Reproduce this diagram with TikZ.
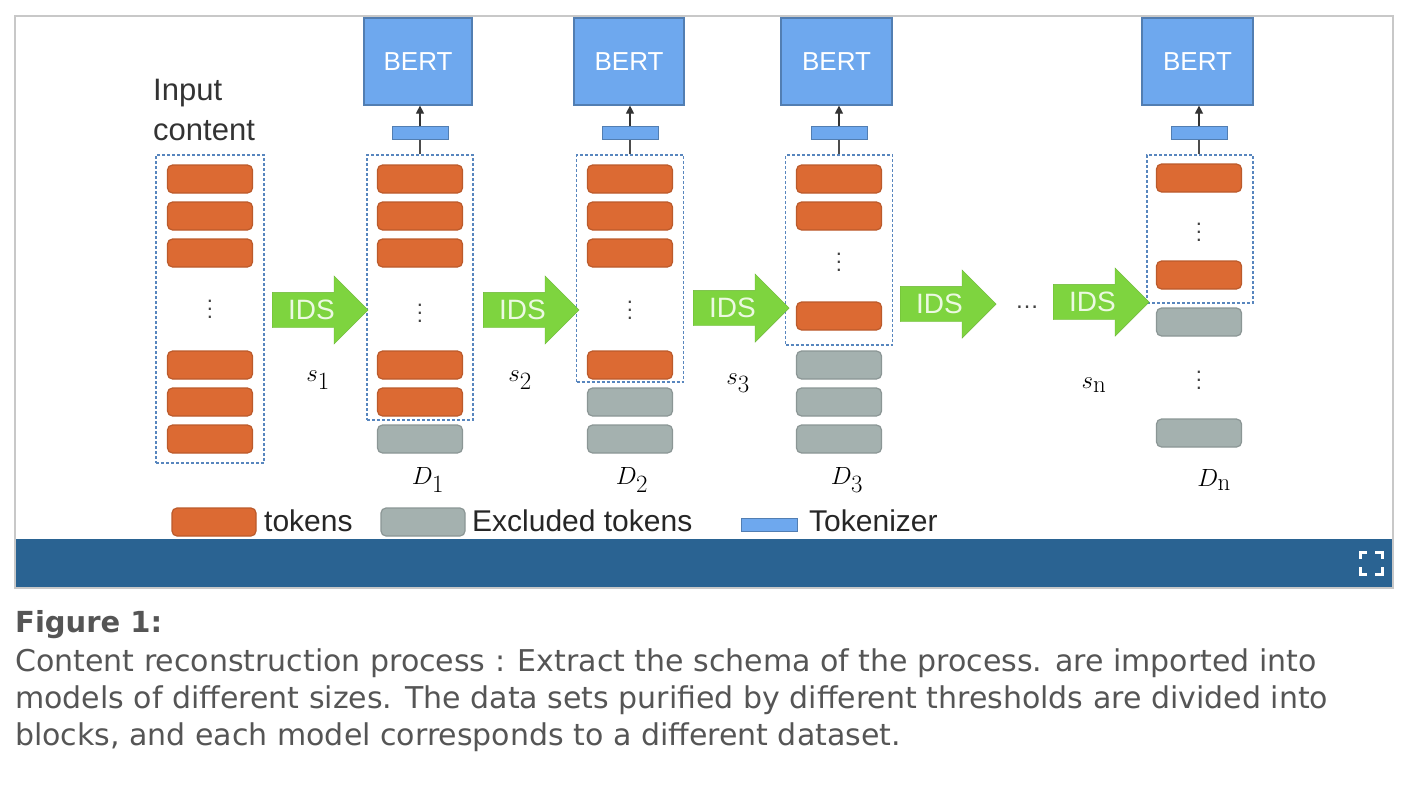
\documentclass[tikz,border=0pt]{standalone}
\usepackage[no-math]{fontspec}
\setmainfont{Liberation Sans}
\newfontfamily\capfont{DejaVu Sans}
\usetikzlibrary{shapes.arrows,arrows.meta}
\definecolor{one}{HTML}{DC6A33}
\definecolor{two}{HTML}{6EA8EE}
\definecolor{three}{HTML}{A4B1AF}
\definecolor{four}{HTML}{7ED43F}
\definecolor{frame}{HTML}{C8C8C8}
\definecolor{bar}{HTML}{2A6392}
\definecolor{captxt}{HTML}{555555}
\newcommand{\cvdots}{\vbox{\baselineskip=8pt\lineskiplimit=0pt\hbox{.}\hbox{.}\hbox{.}}}

\begin{document}
\begin{tikzpicture}[x=1pt,y=-1pt,
  token/.style={draw=one!85!black, fill=one, rounded corners=5, minimum width=85, minimum height=28, inner sep=0, line width=1.2},
  extok/.style={token, draw=three!85!black, fill=three},
  tkzr/.style={draw=two!75!black, fill=two, minimum width=56, minimum height=13, inner sep=0, line width=1},
  bert/.style={draw=two!75!black, fill=two, minimum height=87, text=white, font=\fontsize{26}{30}\selectfont, inner sep=0, line width=1.2},
  ids/.style={single arrow, draw=four!85!black, fill=four, text=white!85!four, font=\fontsize{28}{30}\selectfont, minimum height=96, minimum width=68, single arrow head extend=16.5, single arrow head indent=0, text height=19, text depth=0, inner ysep=8, anchor=tail},
  dbox/.style={draw=two!80!black, dash pattern=on 3pt off 2pt, line width=1.2, inner sep=0},
  vdot/.style={font=\fontsize{22}{22}\selectfont, text=black!75, inner sep=0},
  mlab/.style={font=\fontsize{33}{34}\selectfont, inner sep=0},
  lgd/.style={font=\fontsize{30}{32}\selectfont, text=black!85, anchor=west, inner sep=0},
]
\useasboundingbox (0,0) rectangle (1412,790);

% page frame and bar
\fill[bar] (16,539) rectangle (1392,587);
\draw[frame, line width=2] (15,16) rectangle (1393,588);
\draw[white, line width=3]
(1360,559) -- (1360,552) -- (1367,552)
(1375,552) -- (1382,552) -- (1382,559)
(1360,567) -- (1360,574) -- (1367,574)
(1375,574) -- (1382,574) -- (1382,567);

\draw[solid]

(153,110) node[anchor=west, align=left, inner sep=0, text=black!80, font=\fontsize{31}{40}\selectfont] (IN) {Input\\content}

(210,309) node[dbox, minimum width=108, minimum height=308] (X0) {}
(210,179) node[token] (a1) {}
(210,216) node[token] (a2) {}
(210,253) node[token] (a3) {}
(210,309) node[vdot] (adots) {\cvdots}
(210,365) node[token] (a4) {}
(210,402) node[token] (a5) {}
(210,439) node[token] (a6) {}

(420,287.5) node[dbox, minimum width=106, minimum height=265] (X1) {}
(420,179) node[token] (b1) {}
(420,216) node[token] (b2) {}
(420,253) node[token] (b3) {}
(420,313) node[vdot] (bdots) {\cvdots}
(420,365) node[token] (b4) {}
(420,402) node[token] (b5) {}
(420,439) node[extok] (b6) {}
(420,133) node[tkzr] (K1) {}
(418,61.5) node[bert, minimum width=108] (B1) {BERT}

(630,268.5) node[dbox, minimum width=107, minimum height=227] (X2) {}
(630,179) node[token] (c1) {}
(630,216) node[token] (c2) {}
(630,253) node[token] (c3) {}
(630,310) node[vdot] (cdots) {\cvdots}
(630,365) node[token] (c4) {}
(630,402) node[extok] (c5) {}
(630,439) node[extok] (c6) {}
(630,133) node[tkzr] (K2) {}
(629,61.5) node[bert, minimum width=110] (B2) {BERT}

(839,250) node[dbox, minimum width=107, minimum height=190] (X3) {}
(839,179) node[token] (e1) {}
(839,216) node[token] (e2) {}
(839,262) node[vdot] (edots) {\cvdots}
(839,316) node[token] (e3) {}
(839,365) node[extok] (e4) {}
(839,402) node[extok] (e5) {}
(839,439) node[extok] (e6) {}
(839,133) node[tkzr] (K3) {}
(836.5,61.5) node[bert, minimum width=111] (B3) {BERT}

(1200,229) node[dbox, minimum width=106, minimum height=148] (Xn) {}
(1199,178) node[token] (f1) {}
(1199,232) node[vdot] (fdots) {\cvdots}
(1199,275) node[token] (f2) {}
(1199,322) node[extok] (f3) {}
(1199,380) node[vdot] (fdots2) {\cvdots}
(1199,433) node[extok] (f4) {}
(1199,133) node[tkzr] (Kn) {}
(1197.5,61.5) node[bert, minimum width=111] (Bn) {BERT}

(272,310) node[ids] (S1) {IDS}
(483,310) node[ids] (S2) {IDS}
(693,308) node[ids] (S3) {IDS}
(900,304) node[ids] (S4) {IDS}
(1027,307) node[font=\fontsize{24}{24}\selectfont, text=black!75, inner sep=0] (gap) {\textellipsis}
(1053,302) node[ids] (S5) {IDS}

(318,380) node[mlab] (s1) {$s_1$}
(520,380) node[mlab] (s2) {$s_2$}
(738,383) node[mlab] (s3) {$s_3$}
(1094,385) node[mlab] (sn) {$s_{\mathrm{n}}$}
(428,480) node[mlab] (d1) {$D_1$}
(632,480) node[mlab] (d2) {$D_2$}
(847,480) node[mlab] (d3) {$D_3$}
(1214,480) node[mlab] (dn) {$D_{\mathrm{n}}$};

% legend
\draw[solid]
(214,522) node[token, minimum width=84] (L1) {}
(264,521) node[lgd] (L1t) {tokens}
(423,522) node[extok, minimum width=84] (L2) {}
(472,521) node[lgd] (L2t) {Excluded tokens}
(769,524.5) node[tkzr] (L3) {}
(809,521) node[lgd] (L3t) {Tokenizer};

\draw[black!70, line width=1.2] (X1.north) -- (K1.south);
\draw[black!70, line width=1.2] (X2.north) -- (K2.south);
\draw[black!70, line width=1.2] (X3.north) -- (K3.south);
\draw[black!70, line width=1.2] (Xn.north -| Kn) -- (Kn.south);
\draw[-{Triangle[length=8pt,width=8pt]}, black!80, line width=1.2] (K1.north) -- (K1.north |- B1.south);
\draw[-{Triangle[length=8pt,width=8pt]}, black!80, line width=1.2] (K2.north) -- (K2.north |- B2.south);
\draw[-{Triangle[length=8pt,width=8pt]}, black!80, line width=1.2] (K3.north) -- (K3.north |- B3.south);
\draw[-{Triangle[length=8pt,width=8pt]}, black!80, line width=1.2] (Kn.north) -- (Kn.north |- Bn.south);

% caption
\draw[solid]
(15,625) node[anchor=west, inner sep=0, text=captxt, font=\capfont\bfseries\fontsize{29}{30}\selectfont] (F) {Figure 1:}
(15,700) node[anchor=west, inner sep=0, align=left, text=captxt, font=\capfont\fontsize{30}{37}\selectfont] (C) {Content reconstruction process : Extract the schema of the process. are imported into\\models of different sizes. The data sets purified by different thresholds are divided into\\blocks, and each model corresponds to a different dataset.};
\end{tikzpicture}
\end{document}
